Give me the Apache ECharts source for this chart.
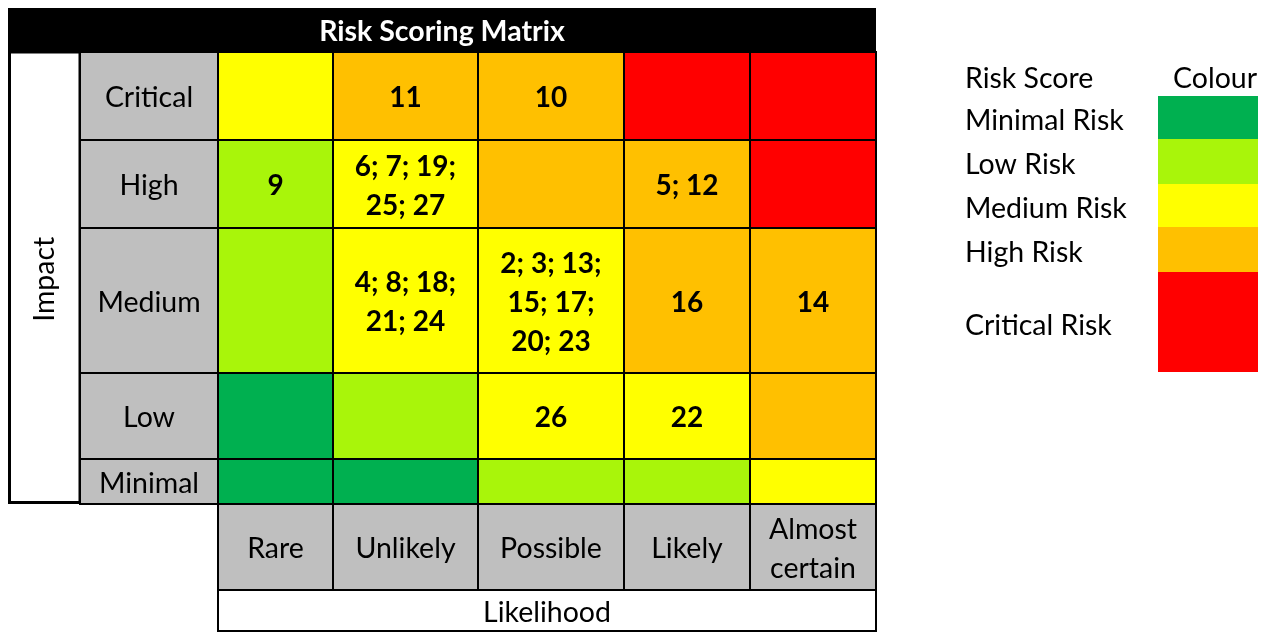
<!DOCTYPE html>
<html>
<head>
<meta charset="utf-8">
<title>Risk Scoring Matrix</title>
<script src="https://cdn.jsdelivr.net/npm/echarts@6/dist/echarts.min.js"></script>
<style>
  html, body { margin: 0; padding: 0; background: #fff; }
  #chart { width: 1271px; height: 633px; }
</style>
</head>
<body>
<div id="chart"></div>
<script>
// data
const chartTitle = 'Risk Scoring Matrix';
const likelihood = ['Rare', 'Unlikely', 'Possible', 'Likely', 'Almost\ncertain'];
const impact = ['Critical', 'High', 'Medium', 'Low', 'Minimal'];
const riskLevels = ['Minimal Risk', 'Low Risk', 'Medium Risk', 'High Risk', 'Critical Risk'];
const levelColors = ['#00b050', '#a9f50a', '#ffff00', '#ffc000', '#ff0000'];
// level index per cell, rows = impact (top to bottom), cols = likelihood
const levelGrid = [
    [2, 3, 3, 4, 4],
    [1, 2, 3, 3, 4],
    [1, 2, 2, 3, 3],
    [0, 1, 2, 2, 3],
    [0, 0, 1, 1, 2]
];
// risk ids per cell
const riskIds = [
    ['', '11', '10', '', ''],
    ['9', '6; 7; 19;\n25; 27', '', '5; 12', ''],
    ['', '4; 8; 18;\n21; 24', '2; 3; 13;\n15; 17;\n20; 23', '16', '14'],
    ['', '', '26', '22', ''],
    ['', '', '', '', '']
];

// layout (axis units, 1 unit = 1px)
const colEdges = [210, 325, 470, 616, 742, 868];
const rowEdges = [44, 132, 220, 365, 451, 496];
const headLeft = 72;        // row header column starts here
const headBottom = 582;     // column header row ends here
const tableBottom = 624;
const FONT = 'Lato';
const textShift = [0, 2];   // Calibri-like baseline sits a bit lower

function initRiskMatrix() {
    const chart = echarts.init(document.getElementById('chart'));

    const cellData = [];
    levelGrid.forEach(function (row, r) {
        row.forEach(function (lv, c) {
            cellData.push([c, r, lv]);
        });
    });

    function rectBetween(api, x0, y0, x1, y1) {
        const p0 = api.coord([x0, y0]);
        const p1 = api.coord([x1, y1]);
        return { x: p0[0], y: p0[1], width: p1[0] - p0[0], height: p1[1] - p0[1] };
    }

    // matrix cells
    function renderCell(params, api) {
        const c = api.value(0);
        const r = api.value(1);
        return {
            type: 'rect',
            shape: rectBetween(api, colEdges[c], rowEdges[r], colEdges[c + 1], rowEdges[r + 1]),
            style: { fill: levelColors[api.value(2)], stroke: '#000', lineWidth: 2 },
            textContent: {
                style: {
                    text: riskIds[r][c],
                    fontFamily: FONT, fontWeight: 'bold', fontSize: 28,
                    lineHeight: 39, fill: '#000', align: 'center'
                }
            },
            textConfig: { position: 'inside', offset: textShift }
        };
    }

    // impact headers (rows)
    function renderRowHead(params, api) {
        const r = api.value(0);
        return {
            type: 'rect',
            shape: rectBetween(api, headLeft, rowEdges[r], colEdges[0], rowEdges[r + 1]),
            style: { fill: '#bfbfbf', stroke: '#000', lineWidth: 2 },
            textContent: {
                style: { text: impact[r], fontFamily: FONT, fontSize: 28.5, fill: '#000' }
            },
            textConfig: { position: 'inside', offset: textShift }
        };
    }

    // likelihood headers (columns)
    function renderColHead(params, api) {
        const c = api.value(0);
        return {
            type: 'rect',
            shape: rectBetween(api, colEdges[c], rowEdges[5], colEdges[c + 1], headBottom),
            style: { fill: '#bfbfbf', stroke: '#000', lineWidth: 2 },
            textContent: {
                style: {
                    text: likelihood[c], fontFamily: FONT, fontSize: 28.5,
                    lineHeight: 39, fill: '#000', align: 'center'
                }
            },
            textConfig: { position: 'inside', offset: textShift }
        };
    }

    // title bar and axis name boxes
    function renderFrame(params, api) {
        const i = params.dataIndex;
        if (i === 0) {
            return {
                type: 'rect',
                shape: rectBetween(api, 0, 0, colEdges[5], rowEdges[0]),
                style: { fill: '#000' },
                textContent: {
                    style: { text: chartTitle, fontFamily: FONT, fontWeight: 'bold', fontSize: 28.5, fill: '#fff' }
                },
                textConfig: { position: 'inside', offset: textShift }
            };
        }
        if (i === 1) {
            const s = rectBetween(api, 0, rowEdges[0], headLeft, rowEdges[5]);
            s.x += 1.5; s.width -= 1.5; s.height -= 1.5;
            return {
                type: 'rect',
                shape: s,
                style: { fill: '#fff', stroke: '#000', lineWidth: 3 },
                textContent: {
                    rotation: Math.PI / 2,
                    style: { text: 'Impact', fontFamily: FONT, fontSize: 28.5, fill: '#000' }
                },
                textConfig: { position: 'inside', rotation: Math.PI / 2, offset: [-2, 0] }
            };
        }
        const s = rectBetween(api, colEdges[0], headBottom, colEdges[5], tableBottom);
        s.height -= 1;
        return {
            type: 'rect',
            shape: s,
            style: { fill: '#fff', stroke: '#000', lineWidth: 2 },
            textContent: {
                style: { text: 'Likelihood', fontFamily: FONT, fontSize: 28.5, fill: '#000' }
            },
            textConfig: { position: 'inside', offset: textShift }
        };
    }

    // legend on the right
    const legendSwatchH = [43, 45, 43, 45, 100];
    const legendFont = 28.5;
    const legendGraphics = [
        { type: 'text', left: 965, top: 64, style: { text: 'Risk Score', fontFamily: FONT, fontSize: legendFont, fill: '#000' } },
        { type: 'text', left: 1173, top: 64, style: { text: 'Colour', fontFamily: FONT, fontSize: legendFont, fill: '#000' } }
    ];
    let yTop = 96;
    riskLevels.forEach(function (name, i) {
        const h = legendSwatchH[i];
        legendGraphics.push({
            type: 'rect', left: 1158, top: yTop,
            shape: { width: 100, height: h },
            style: { fill: levelColors[i] }
        });
        legendGraphics.push({
            type: 'text', left: 965, top: yTop + h / 2 - 11,
            style: { text: name, fontFamily: FONT, fontSize: legendFont, fill: '#000' }
        });
        yTop += h;
    });

    const option = {
        backgroundColor: '#fff',
        animation: false,
        grid: { left: 8, top: 8, width: 868, height: 624 },
        xAxis: { type: 'value', min: 0, max: 868, show: false },
        yAxis: { type: 'value', min: 0, max: 624, inverse: true, show: false },
        graphic: legendGraphics,
        series: [
            { type: 'custom', renderItem: renderFrame, data: [[0], [1], [2]], silent: true },
            { type: 'custom', renderItem: renderRowHead, data: impact.map(function (d, i) { return [i]; }) },
            { type: 'custom', renderItem: renderColHead, data: likelihood.map(function (d, i) { return [i]; }) },
            { type: 'custom', renderItem: renderCell, data: cellData }
        ]
    };

    chart.setOption(option);
}

document.addEventListener('DOMContentLoaded', initRiskMatrix);
</script>
</body>
</html>
